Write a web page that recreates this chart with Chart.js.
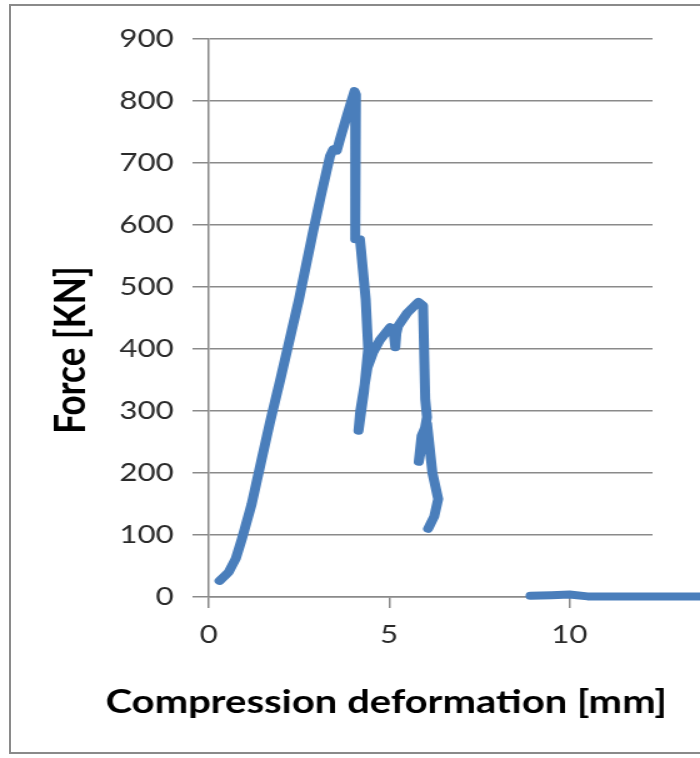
<!DOCTYPE html>
<html>
<head>
<meta charset="utf-8">
<script src="https://cdn.jsdelivr.net/npm/chart.js@4.4.0/dist/chart.umd.min.js"></script>
<style>
    body { margin: 0; background: #fff; overflow: hidden; width: 700px; height: 758px; }
    .marco { position: absolute; left: 9px; top: 4px; width: 740px; height: 746px; border: 2px solid #8a8a8a; }
    .lienzo { position: absolute; left: 0; top: 0; width: 560px; height: 758px; transform: scaleX(1.25); transform-origin: 0 0; }
</style>
</head>
<body>
<div class="marco"></div>
<div class="lienzo">
    <canvas id="ensayo" width="560" height="758"></canvas>
</div>
<script>
// compression test
const deformacion = [
    0.3, 0.55, 0.75, 0.92, 1.19, 1.42, 1.69, 2.0, 2.5, 2.89,
    3.1, 3.36, 3.45, 3.55, 3.64, 3.85, 4.04, 4.08, 4.06, 4.06,
    4.19, 4.22, 4.35, 4.42, 4.3, 4.15, 4.2, 4.4, 4.56, 4.75,
    5.03, 5.12, 5.17, 5.2, 5.25, 5.5, 5.81, 5.94, 6.0, 6.05,
    5.82, 5.9, 6.05, 6.2, 6.36, 6.25, 6.08,
    7.5,
    8.92, 9.5, 10.0, 10.5, 12.0, 14.0
]
const fuerza = [
    26, 40, 62, 94, 150, 210, 280, 355, 480, 589,
    645, 711, 722, 720, 739, 780, 816, 810, 700, 577,
    577, 560, 480, 400, 330, 268, 300, 370, 395, 415,
    435, 430, 403, 425, 437, 458, 476, 470, 319, 290,
    218, 260, 280, 200, 158, 130, 110,
    null,
    2, 3, 4, 1, 1, 1
]
const ticksX = [0, 5, 10]
const tituloX = 'Compression deformation [mm]'
const tituloY = 'Force [KN]'

const gris = '#8a8a8a'

// axis titles placed like the original (not centred on the plot)
const titulos = {
    id: 'titulos',
    afterDraw(chart) {
        const ctx = chart.ctx
        ctx.save()
        ctx.fillStyle = '#000'
        ctx.textAlign = 'center'
        ctx.textBaseline = 'middle'
        ctx.font = 'bold 32px Lato'
        ctx.fillText(tituloX, 309, 703)
        ctx.translate(57, 350)
        ctx.rotate(-Math.PI / 2)
        ctx.font = 'bold 35px Lato'
        ctx.fillText(tituloY, 0, 0)
        ctx.restore()
    }
}

const ctx = document.getElementById('ensayo').getContext('2d');
const myChart = new Chart(ctx, {
    type: 'scatter',
    data: {
        datasets: [{
            label: 'Force',
            data: deformacion.map((d, i) => ({ x: d, y: fuerza[i] })),
            showLine: true,
            spanGaps: false,
            borderColor: '#4a7ebb',
            backgroundColor: '#4a7ebb',
            borderWidth: 8,
            borderCapStyle: 'round',
            borderJoinStyle: 'round',
            pointRadius: 0,
            tension: 0,
            clip: false
        }]
    },
    options: {
        responsive: false,
        animation: false,
        layout: {
            padding: { left: 8, right: 38, top: 39, bottom: 0 }
        },
        scales: {
            x: {
                type: 'linear',
                min: 0,
                max: 12.3,
                afterFit: scale => { scale.height = 161 },
                afterBuildTicks: scale => { scale.ticks = ticksX.map(v => ({ value: v })) },
                ticks: {
                    includeBounds: false,
                    padding: 12,
                    color: '#2a2a2a',
                    font: { family: 'Lato', size: 25 }
                },
                grid: {
                    drawOnChartArea: false,
                    drawTicks: true,
                    tickLength: 11,
                    color: gris,
                    lineWidth: 1.5
                },
                border: { display: true, color: gris, width: 1.5 }
            },
            y: {
                min: 0,
                max: 900,
                afterFit: scale => { scale.width = 159 },
                ticks: {
                    stepSize: 100,
                    padding: 15,
                    color: '#2a2a2a',
                    font: { family: 'Lato', size: 25 }
                },
                grid: {
                    color: gris,
                    lineWidth: 1.5,
                    tickLength: 13
                },
                border: { display: true, color: gris, width: 1.5 }
            }
        },
        plugins: {
            legend: { display: false },
            tooltip: { enabled: false }
        }
    },
    plugins: [titulos]
});
</script>
</body>
</html>
